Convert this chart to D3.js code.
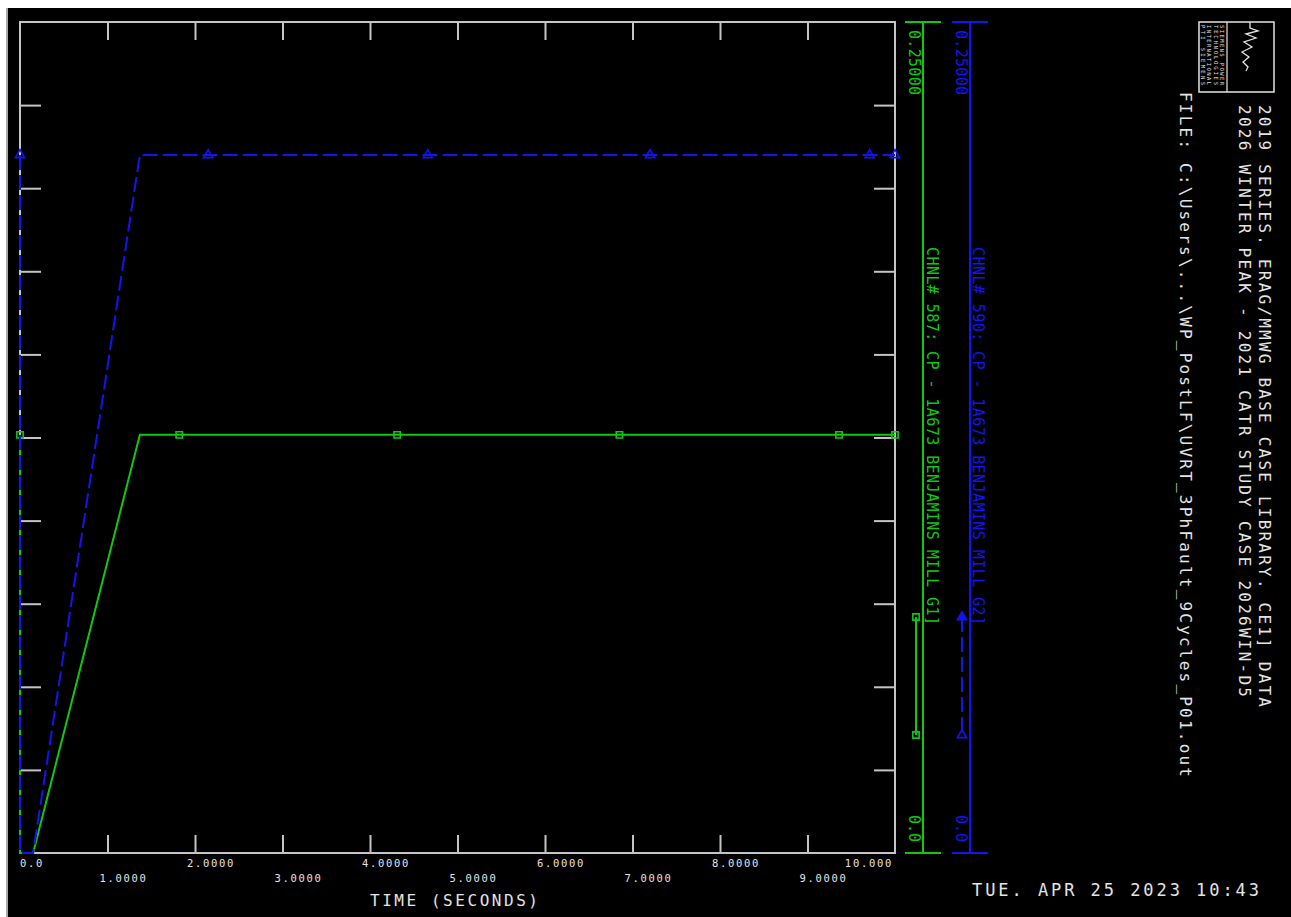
<!DOCTYPE html>
<html><head><meta charset="utf-8">
<script src="https://cdn.jsdelivr.net/npm/d3@7"></script>
<style>html,body{margin:0;padding:0;background:#fff;overflow:hidden} svg{display:block}</style>
</head><body>
<svg id="c" width="1291" height="917"></svg>
<script>
// ---------- data ----------
const timeTicks = [0, 1, 2, 3, 4, 5, 6, 7, 8, 9, 10];
const timeTickLabels = ["0.0", "1.0000", "2.0000", "3.0000", "4.0000", "5.0000", "6.0000", "7.0000", "8.0000", "9.0000", "10.000"];
const valueTicks = [0, 0.025, 0.05, 0.075, 0.1, 0.125, 0.15, 0.175, 0.2, 0.225, 0.25];
const valueAxisLabels = ["0.0", "0.25000"];
const seriesTime = [0, 0, 0.15, 1.37, 10];
const ch587Values = [0.1258, 0, 0, 0.1258, 0.1258];
const ch590Values = [0.2100, 0, 0, 0.2100, 0.2100];
const ch587MarkerTime = [0, 1.82, 4.31, 6.85, 9.36, 10];
const ch587MarkerValue = [0.1258, 0.1258, 0.1258, 0.1258, 0.1258, 0.1258];
const ch590MarkerTime = [0, 2.15, 4.66, 7.20, 9.71, 10];
const ch590MarkerValue = [0.2100, 0.2100, 0.2100, 0.2100, 0.2100, 0.2100];
const ch587Label = "CHNL# 587: CP - 1A673 BENJAMINS MILL G1]";
const ch590Label = "CHNL# 590: CP - 1A673 BENJAMINS MILL G2]";
const titleLines = [
  "2019 SERIES. ERAG/MMWG BASE CASE LIBRARY. CE1] DATA",
  "2026 WINTER PEAK - 2021 CATR STUDY CASE 2026WIN-D5",
  "FILE: C:\\Users\\...\\WP_PostLF\\UVRT_3PhFault_9Cycles_P01.out"
];
const xAxisTitle = "TIME (SECONDS)";
const dateText = "TUE. APR 25 2023  10:43";

// ---------- style ----------
const FONT = "'DejaVu Sans Mono', 'Liberation Mono', monospace";
const GRAY = "#c4c4c4";
const TEXT = "#e4e4e4";
const GREEN = "#10c810";
const BLUE = "#1414f0";

const svg = d3.select("#c");
svg.append("rect").attr("x", 0).attr("y", 0).attr("width", 1291).attr("height", 917).attr("fill", "#fff");
svg.append("rect").attr("x", 7).attr("y", 8).attr("width", 1284).attr("height", 909).attr("fill", "#000");
svg.append("line").attr("x1", 7).attr("x2", 7).attr("y1", 8).attr("y2", 917).attr("stroke", "#a8a8a8").attr("stroke-width", 2);

const L = 20, R = 895, T = 22, B = 853;
const x = d3.scaleLinear().domain([0, 10]).range([L, R]);
const y = d3.scaleLinear().domain([0, 0.25]).range([B, T]);

// ticks via d3 axes
const innerT = timeTicks.slice(1, -1);
const innerV = valueTicks.slice(1, -1);
function styleAxis(g) {
  g.select(".domain").remove();
  g.selectAll(".tick line").attr("stroke", GRAY).attr("stroke-width", 2);
  g.selectAll(".tick text").remove();
}
svg.append("g").attr("transform", `translate(0,${T})`).call(d3.axisBottom(x).tickValues(innerT).tickSize(18).tickFormat("")).call(styleAxis);
svg.append("g").attr("transform", `translate(0,${B})`).call(d3.axisTop(x).tickValues(innerT).tickSize(18).tickFormat("")).call(styleAxis);
svg.append("g").attr("transform", `translate(${L},0)`).call(d3.axisRight(y).tickValues(innerV).tickSize(21).tickFormat("")).call(styleAxis);
svg.append("g").attr("transform", `translate(${R},0)`).call(d3.axisLeft(y).tickValues(innerV).tickSize(21).tickFormat("")).call(styleAxis);

svg.append("rect").attr("x", L).attr("y", T).attr("width", R - L).attr("height", B - T)
  .attr("fill", "none").attr("stroke", GRAY).attr("stroke-width", 2);

// x tick labels (alternating rows)
timeTicks.forEach((t, i) => {
  const last = i === timeTicks.length - 1;
  const first = i === 0;
  svg.append("text")
    .attr("x", last ? x(t) - 2 : (first ? x(t) : x(t) - 8))
    .attr("y", i % 2 === 0 ? 867 : 882)
    .attr("text-anchor", last ? "end" : "start")
    .attr("font-family", FONT).attr("font-size", 10.5)
    .attr("letter-spacing", 1.7)
    .attr("fill", TEXT).text(timeTickLabels[i]);
});
svg.append("text").attr("x", 370).attr("y", 906).attr("font-family", FONT).attr("font-size", 16)
  .attr("textLength", 168).attr("lengthAdjust", "spacing").attr("fill", TEXT).text(xAxisTitle);

// rotated text helper
function vtext(cx, y0, str, size, fill, len, anchor) {
  const t = svg.append("text")
    .attr("transform", `translate(${cx},${y0}) rotate(90)`)
    .attr("dominant-baseline", "central")
    .attr("text-anchor", anchor || "start")
    .attr("font-family", FONT).attr("font-size", size)
    .attr("fill", fill).text(str);
  if (len) t.attr("textLength", len).attr("lengthAdjust", "spacing");
  return t;
}

// value axes (green and blue)
const axes = [
  { ax: 923, color: GREEN, labelX: 914, chX: 932, legX: 916, label: ch587Label, marker: "square" },
  { ax: 970, color: BLUE, labelX: 961, chX: 978, legX: 962, label: ch590Label, marker: "triangle" }
];
axes.forEach(a => {
  svg.append("line").attr("x1", a.ax).attr("x2", a.ax).attr("y1", y(0.25)).attr("y2", y(0)).attr("stroke", a.color).attr("stroke-width", 2);
  [0, 0.25].forEach(v => svg.append("line").attr("x1", a.ax - 18).attr("x2", a.ax + 18).attr("y1", y(v)).attr("y2", y(v)).attr("stroke", a.color).attr("stroke-width", 2));
  vtext(a.labelX, 30, valueAxisLabels[1], 15, a.color, 65);
  vtext(a.labelX, 842, valueAxisLabels[0], 15, a.color, null, "end");
  vtext(a.chX, 247, a.label, 15, a.color, 378);
});

// markers
const sym = {
  square: d3.symbol().type(d3.symbolSquare).size(40),
  triangle: d3.symbol().type(d3.symbolTriangle).size(36)
};
function drawMarkers(xs, ys, type, color) {
  svg.append("g").selectAll("path").data(xs.map((t, i) => [t, ys[i]])).join("path")
    .attr("transform", d => `translate(${x(d[0])},${y(d[1])})`)
    .attr("d", sym[type]).attr("fill", "none").attr("stroke", color).attr("stroke-width", 1.6);
}

// series lines
const line = d3.line().x(d => x(d[0])).y(d => y(d[1]));
svg.append("path").datum(seriesTime.map((t, i) => [t, ch587Values[i]])).attr("d", line)
  .attr("fill", "none").attr("stroke", GREEN).attr("stroke-width", 2);
drawMarkers(ch587MarkerTime, ch587MarkerValue, "square", GREEN);
svg.append("path").datum(seriesTime.map((t, i) => [t, ch590Values[i]])).attr("d", line)
  .attr("fill", "none").attr("stroke", BLUE).attr("stroke-width", 2).attr("stroke-dasharray", "15,5");
drawMarkers(ch590MarkerTime, ch590MarkerValue, "triangle", BLUE);

// legend keys beside the axes
svg.append("line").attr("x1", 916).attr("x2", 916).attr("y1", 617).attr("y2", 735).attr("stroke", GREEN).attr("stroke-width", 2);
svg.append("line").attr("x1", 962).attr("x2", 962).attr("y1", 617).attr("y2", 735).attr("stroke", BLUE).attr("stroke-width", 2).attr("stroke-dasharray", "15,5");
[617, 735].forEach(py => {
  svg.append("path").attr("transform", `translate(916,${py})`).attr("d", sym.square).attr("fill", "none").attr("stroke", GREEN).attr("stroke-width", 1.6);
  svg.append("path").attr("transform", `translate(962,${py})`).attr("d", sym.triangle).attr("fill", py === 617 ? BLUE : "none").attr("stroke", BLUE).attr("stroke-width", 1.6);
});

// titles
vtext(1264, 105, titleLines[0], 16, TEXT, 602);
vtext(1244, 105, titleLines[1], 16, TEXT, 592);
vtext(1185, 92, titleLines[2], 16, TEXT, 685);

// logo
svg.append("rect").attr("x", 1199).attr("y", 22).attr("width", 75).attr("height", 70).attr("fill", "none").attr("stroke", TEXT).attr("stroke-width", 1.5);
svg.append("line").attr("x1", 1227).attr("x2", 1227).attr("y1", 22).attr("y2", 92).attr("stroke", TEXT).attr("stroke-width", 1.2);
const wave = [[1250,22],[1250,28],[1258,31],[1246,34],[1256,38],[1244,42],[1252,47],[1242,52],[1249,57],[1243,62],[1248,67],[1246,71]];
svg.append("path").attr("d", d3.line()(wave)).attr("fill", "none").attr("stroke", TEXT).attr("stroke-width", 1.3);
["SIEMENS POWER", "TECHNOLOGIES", "INTERNATIONAL", "PTI  SIEMENS"].forEach((s, i) => {
  vtext(1222 - i * 6.5, 25, s, 5.5, TEXT, 60);
});

// date
svg.append("text").attr("x", 972).attr("y", 896).attr("font-family", FONT).attr("font-size", 17)
  .attr("textLength", 287).attr("lengthAdjust", "spacing").attr("fill", TEXT).text(dateText);
</script>
</body></html>
